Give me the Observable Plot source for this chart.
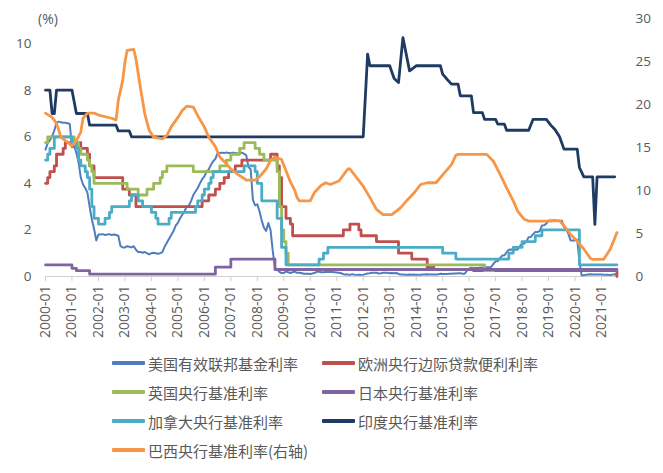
<!DOCTYPE html>
<html>
<head>
<meta charset="utf-8">
<script src="https://cdn.jsdelivr.net/npm/d3@7"></script>
<script src="https://cdn.jsdelivr.net/npm/@observablehq/plot@0.6"></script>
<style>
  html, body { margin: 0; padding: 0; background: #fff; }
  #wrap { position: relative; width: 663px; height: 473px; overflow: hidden; background: #fff; }
  #legend { position: absolute; left: 0; top: 0; width: 663px; height: 473px; pointer-events: none;
    font-family: "Noto Sans CJK SC", "Noto Sans", sans-serif; font-size: 15px; color: #595959; }
  .item { position: absolute; display: flex; align-items: center; white-space: nowrap; }
  .sw { width: 33px; height: 4px; margin-right: 3px; border-radius: 1px; }
</style>
</head>
<body>
<div id="wrap"><div id="chart"></div><div id="legend"></div></div>
<script>
// ---------------- data ----------------
const seriesNames = ["美国有效联邦基金利率", "欧洲央行边际贷款便利利率", "英国央行基准利率", "日本央行基准利率",
  "加拿大央行基准利率", "印度央行基准利率", "巴西央行基准利率(右轴)"];
const yearTicks = [2000,2001,2002,2003,2004,2005,2006,2007,2008,2009,2010,2011,2012,2013,2014,2015,2016,2017,2018,2019,2020,2021];
const leftTicks = [0, 2, 4, 6, 8, 10];
const rightTicks = [0, 5, 10, 15, 20, 25, 30];

// US effective fed funds, monthly from 2000-01
const usStart = "2000-01";
const usValues = [
  5.45,5.73,5.85,6.02,6.27,6.60,6.65,6.62,6.60,6.60,6.58,6.55,
  5.55,5.60,5.30,4.90,4.25,3.95,3.80,3.60,3.00,2.45,2.05,1.55,
  1.80,1.80,1.82,1.78,1.80,1.82,1.78,1.80,1.78,1.75,1.30,1.25,
  1.25,1.30,1.28,1.25,1.30,1.15,1.05,1.05,1.02,1.05,1.00,0.95,
  1.00,1.02,1.00,0.98,1.00,1.05,1.28,1.45,1.62,1.78,1.95,2.18,
  2.30,2.50,2.65,2.80,3.00,3.05,3.25,3.50,3.65,3.80,4.00,4.18,
  4.30,4.50,4.60,4.80,4.95,5.05,5.30,5.30,5.32,5.30,5.33,5.30,
  5.30,5.32,5.30,5.28,5.30,5.32,5.27,5.20,4.70,4.60,3.30,3.05,
  3.10,2.80,2.40,2.10,1.96,2.30,2.00,1.10,0.38,0.30,0.20,0.15,
  0.15,0.22,0.18,0.15,0.18,0.21,0.16,0.16,0.15,0.12,0.12,0.12,
  0.11,0.13,0.16,0.20,0.20,0.18,0.18,0.19,0.19,0.19,0.19,0.18,
  0.17,0.16,0.14,0.10,0.09,0.09,0.07,0.10,0.08,0.07,0.08,0.07,
  0.08,0.10,0.13,0.14,0.16,0.16,0.16,0.13,0.14,0.16,0.16,0.16,
  0.14,0.15,0.14,0.15,0.11,0.09,0.09,0.08,0.08,0.09,0.08,0.09,
  0.07,0.07,0.08,0.09,0.09,0.10,0.09,0.09,0.09,0.09,0.09,0.12,
  0.11,0.11,0.11,0.12,0.12,0.13,0.13,0.14,0.14,0.12,0.12,0.24,
  0.34,0.38,0.36,0.37,0.37,0.38,0.39,0.40,0.40,0.40,0.41,0.54,
  0.65,0.66,0.79,0.90,0.91,1.04,1.15,1.16,1.15,1.15,1.16,1.30,
  1.41,1.42,1.51,1.69,1.70,1.82,1.91,1.91,1.95,2.19,2.20,2.27,
  2.40,2.40,2.41,2.42,2.39,2.38,2.40,2.13,2.04,1.83,1.55,1.55,
  1.55,1.58,0.65,0.05,0.05,0.08,0.09,0.10,0.09,0.09,0.09,0.09,
  0.09,0.08,0.07,0.07,0.06,0.08,0.10,0.09
];

// ECB marginal lending facility (step changes)
const ecb = [
  ["2000-01",4.0],["2000-02",4.25],["2000-03",4.5],["2000-05",4.75],["2000-06",5.25],["2000-09",5.5],["2000-10",5.75],
  ["2001-05",5.5],["2001-08",5.25],["2001-09",4.75],["2001-11",4.25],["2002-12",3.75],["2003-03",3.5],["2003-06",3.0],
  ["2005-12",3.25],["2006-03",3.5],["2006-06",3.75],["2006-08",4.0],["2006-10",4.25],["2006-12",4.5],["2007-03",4.75],
  ["2007-06",5.0],["2008-07",5.25],["2008-10",4.75],["2008-11",4.25],["2008-12",3.0],["2009-02",2.5],["2009-04",2.25],
  ["2009-05",1.75],["2011-04",2.0],["2011-07",2.25],["2011-11",2.0],["2011-12",1.75],["2012-07",1.5],["2013-05",1.0],
  ["2013-11",0.75],["2014-06",0.4],["2014-09",0.3],["2016-03",0.25],["2021-07",0.25],["2021-08",0.0]
];

// Bank of England Bank Rate (step changes)
const uk = [
  ["2000-01",5.75],["2000-02",6.0],["2001-02",5.75],["2001-04",5.5],["2001-05",5.25],["2001-08",5.0],["2001-09",4.75],
  ["2001-10",4.5],["2001-11",4.0],["2003-02",3.75],["2003-07",3.5],["2003-11",3.75],["2004-02",4.0],["2004-05",4.25],
  ["2004-06",4.5],["2004-08",4.75],["2005-08",4.5],["2006-08",4.75],["2006-11",5.0],["2007-01",5.25],["2007-05",5.5],
  ["2007-07",5.75],["2007-12",5.5],["2008-02",5.25],["2008-04",5.0],["2008-10",4.5],["2008-11",3.0],["2008-12",2.0],
  ["2009-01",1.5],["2009-02",1.0],["2009-03",0.5],["2016-08",0.25],["2016-12",0.25]
];

// Bank of Japan basic loan rate (step changes)
const japan = [
  ["2000-01",0.5],["2001-01",0.35],["2001-03",0.25],["2001-09",0.1],["2006-06",0.4],["2007-01",0.75],
  ["2008-09",0.3],["2021-08",0.3]
];

// Bank of Canada bank rate (step changes)
const canada = [
  ["2000-01",5.0],["2000-02",5.25],["2000-03",5.5],["2000-05",6.0],["2001-01",5.75],["2001-03",5.5],["2001-04",5.0],
  ["2001-05",4.75],["2001-07",4.5],["2001-08",4.25],["2001-09",3.75],["2001-10",3.0],["2001-11",2.5],["2002-01",2.25],
  ["2002-04",2.5],["2002-06",2.75],["2002-07",3.0],["2003-03",3.25],["2003-04",3.5],["2003-07",3.25],["2003-09",3.0],
  ["2004-01",2.75],["2004-03",2.5],["2004-04",2.25],["2004-09",2.5],["2004-10",2.75],["2005-09",3.0],["2005-10",3.25],
  ["2005-12",3.5],["2006-01",3.75],["2006-03",4.0],["2006-04",4.25],["2006-05",4.5],["2007-07",4.75],["2007-12",4.5],
  ["2008-01",4.0],["2008-03",3.25],["2008-10",2.5],["2008-12",1.25],["2009-02",0.5],["2010-05",0.75],
  ["2010-07",1.0],["2010-09",1.25],["2015-01",1.0],["2015-07",0.75],["2017-07",1.0],["2017-09",1.25],["2018-01",1.5],
  ["2018-07",1.75],["2018-10",2.0],["2020-03",0.5],["2021-08",0.5]
];

// Reserve Bank of India rate (left axis, read points)
const india = [
  ["2000-01",8.0],["2000-03",8.0],["2000-04",7.0],["2000-05",7.0],["2000-06",8.0],["2001-01",8.0],["2001-02",7.5],
  ["2001-03",7.0],["2001-08",7.0],["2001-09",6.5],["2002-09",6.5],["2002-10",6.25],["2003-03",6.25],["2003-04",6.0],
  ["2012-01",6.0],["2012-03",9.55],["2012-04",9.05],["2013-01",9.05],["2013-03",8.5],["2013-05",8.33],["2013-07",10.26],
  ["2013-10",8.83],["2014-01",9.05],["2014-12",9.05],["2015-01",8.69],["2015-03",8.47],["2015-05",8.26],["2015-08",8.26],
  ["2015-09",7.76],["2016-02",7.76],["2016-03",7.04],["2016-07",7.04],["2016-08",6.75],["2017-01",6.75],["2017-02",6.54],
  ["2017-05",6.54],["2017-06",6.28],["2018-04",6.28],["2018-06",6.75],["2018-12",6.75],["2019-02",6.5],["2019-04",6.3],
  ["2019-06",6.0],["2019-08",5.47],["2020-02",5.47],["2020-03",4.68],["2020-05",4.28],["2020-09",4.28],["2020-10",2.24],
  ["2020-11",4.28],["2021-07",4.28]
];

// Brazil Selic (right axis)
const brazil = [
  ["2000-01",19.0],["2000-04",18.5],["2000-06",17.8],["2000-08",16.2],["2000-11",15.6],["2001-01",15.2],["2001-03",15.8],
  ["2001-05",16.8],["2001-06",18.4],["2001-08",19.0],["2001-11",19.0],["2002-02",18.7],["2002-07",18.4],["2002-09",18.2],
  ["2002-10",20.5],["2002-12",22.8],["2003-01",24.9],["2003-02",26.3],["2003-05",26.4],["2003-06",25.3],["2003-08",22.0],
  ["2003-10",18.9],["2003-12",17.0],["2004-02",16.2],["2004-06",16.0],["2004-08",16.4],["2004-10",17.4],["2005-01",18.5],
  ["2005-03",19.3],["2005-05",19.8],["2005-08",19.7],["2005-10",18.7],["2006-01",17.4],["2006-03",16.2],["2006-06",15.1],
  ["2006-08",13.9],["2006-11",13.1],["2007-01",12.5],["2007-04",11.9],["2007-07",11.4],["2007-08",11.2],["2007-12",11.2],
  ["2008-02",11.6],["2008-05",12.5],["2008-07",13.5],["2008-09",13.9],["2008-12",13.6],["2009-02",12.3],["2009-04",11.0],
  ["2009-06",10.0],["2009-07",9.2],["2009-08",8.8],["2010-01",8.8],["2010-03",9.8],["2010-06",10.6],["2010-08",10.9],
  ["2010-10",10.7],["2011-02",11.1],["2011-06",12.5],["2011-07",12.5],["2011-10",11.5],["2012-01",10.5],["2012-04",9.2],
  ["2012-07",7.8],["2012-10",7.2],["2013-02",7.2],["2013-06",8.0],["2013-09",8.9],["2013-12",9.7],["2014-03",10.7],
  ["2014-06",10.9],["2014-10",10.9],["2015-02",12.1],["2015-05",13.0],["2015-07",14.1],["2015-08",14.2],["2016-09",14.2],
  ["2016-12",13.4],["2017-03",11.9],["2017-06",10.3],["2017-09",8.8],["2017-11",7.6],["2018-02",6.65],["2018-04",6.45],
  ["2019-02",6.45],["2019-06",6.5],["2019-08",5.9],["2019-11",4.9],["2020-02",4.1],["2020-05",3.2],["2020-08",2.1],
  ["2020-09",2.0],["2021-02",2.0],["2021-05",3.2],["2021-08",5.1]
];

const colors = ["#4f7dbd", "#c0504d", "#9bbb59", "#8064a2", "#4bacc6", "#1f3b63", "#f79646"];

// ---------------- build ----------------
const Y_MAX = 11.08;   // left-axis top
const R_MAX = 30;      // right-axis top
const toYear = s => +s.slice(0, 4) + (+s.slice(5, 7) - 1) / 12;
const pairs = arr => arr.map(([d, v]) => ({x: toYear(d), y: v}));
const usData = usValues.map((v, i) => ({x: toYear(usStart) + i / 12, y: v}));
const brData = brazil.map(([d, v]) => ({x: toYear(d), y: v * Y_MAX / R_MAX}));

const font = "'Open Sans', 'Noto Sans', sans-serif";
const lineOpts = (c, w, curve) => ({x: "x", y: "y", stroke: c, strokeWidth: w, curve, strokeLinejoin: "round", strokeLinecap: "round"});

const chart = Plot.plot({
  width: 663,
  height: 345,
  marginLeft: 45,
  marginRight: 45,
  marginTop: 18,
  marginBottom: 69,
  style: {fontFamily: font, fontSize: "13.5px", color: "#595959", background: "white", overflow: "visible"},
  x: {type: "linear", domain: [2000, 2000 + 573 / 26.476]},
  y: {domain: [0, Y_MAX]},
  marks: [
    Plot.axisY({ticks: leftTicks, tickSize: 0, tickPadding: 14, label: null, tickFormat: d => String(d)}),
    Plot.axisY({anchor: "right", ticks: rightTicks.map(v => v * Y_MAX / R_MAX), tickSize: 0, tickPadding: 17,
      label: null, tickFormat: d => String(Math.round(d * R_MAX / Y_MAX)), textAnchor: "start"}),
    Plot.axisX({ticks: yearTicks, tickFormat: y => `${y}-01`, tickRotate: -90, tickSize: 5, tickPadding: 4,
      label: null, stroke: "#d0d0d0", fill: "#595959", fontSize: 14}),
    Plot.ruleY([0], {stroke: "#d0d0d0", strokeWidth: 1}),
    Plot.line(usData, lineOpts(colors[0], 2, "linear")),
    Plot.line(pairs(ecb), lineOpts(colors[1], 2.8, "step-after")),
    Plot.line(pairs(uk), lineOpts(colors[2], 2.8, "step-after")),
    Plot.line(pairs(japan), lineOpts(colors[3], 2.8, "step-after")),
    Plot.line(pairs(canada), lineOpts(colors[4], 2.8, "step-after")),
    Plot.line(pairs(india), lineOpts(colors[5], 2.8, "linear")),
    Plot.line(brData, lineOpts(colors[6], 2.8, "linear")),
    Plot.text(["(%)"], {frameAnchor: "top-left", dx: 2.5, dy: 1, fontSize: 14, fill: "#595959", textAnchor: "middle", lineAnchor: "middle"})
  ]
});
document.getElementById("chart").appendChild(chart);

// ---------------- legend ----------------
const legend = document.getElementById("legend");
const legendPos = [[112, 363], [322, 363], [112, 392], [322, 392], [112, 421], [322, 421], [112, 450]];
seriesNames.forEach((name, i) => {
  const it = document.createElement("div");
  it.className = "item";
  it.style.left = legendPos[i][0] + "px";
  it.style.top = (legendPos[i][1] - 11) + "px";
  it.style.height = "22px";
  const sw = document.createElement("span");
  sw.className = "sw";
  sw.style.background = colors[i];
  const tx = document.createElement("span");
  tx.textContent = name;
  it.appendChild(sw);
  it.appendChild(tx);
  legend.appendChild(it);
});
</script>
</body>
</html>
